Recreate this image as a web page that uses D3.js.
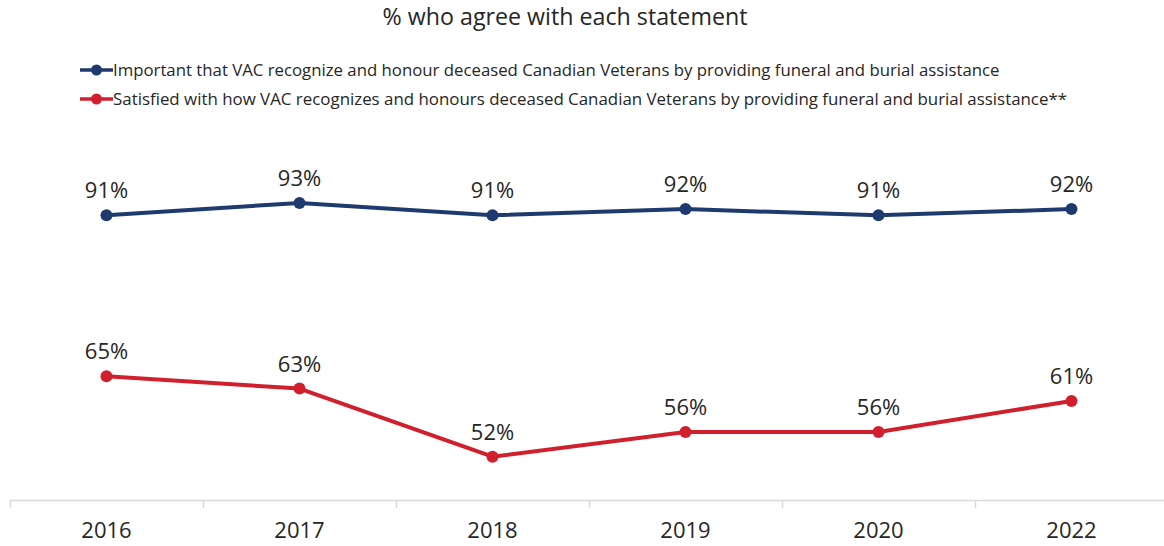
<!DOCTYPE html>
<html><head><meta charset="utf-8">
<script src="https://cdn.jsdelivr.net/npm/d3@7"></script>
<style>body{margin:0;background:#fff}svg{display:block}</style>
</head><body>
<script>
const categories = ["2016","2017","2018","2019","2020","2022"];
const importantValues = [91,93,91,92,91,92];
const satisfiedValues = [65,63,52,56,56,61];
const seriesNames = [
  "Important that VAC recognize and honour deceased Canadian Veterans by providing funeral and burial assistance",
  "Satisfied with how VAC recognizes and honours deceased Canadian Veterans by providing funeral and burial assistance**"
];
const seriesColors = ["#1f3a6e","#d0202e"];
const titleText = "% who agree with each statement";

const W = 1164, H = 546;
const font = "'Open Sans', 'Liberation Sans', sans-serif";
const textColor = "#262626";
const svg = d3.select("body").append("svg").attr("width", W).attr("height", H);

function fitText(sel, target){
  const n = sel.node();
  let fs = parseFloat(sel.attr("font-size"));
  const w = n.getComputedTextLength();
  sel.attr("font-size", (fs*target/w).toFixed(2));
}

const x = d3.scaleBand().domain(categories).range([10, 1168]).paddingInner(0).paddingOuter(0);
const y = d3.scaleLinear().domain([45, 100]).range([500, 159.6]);

// title
const t = svg.append("text").attr("x", 565).attr("y", 25).attr("text-anchor","middle")
  .attr("font-family", font).attr("font-size", 20).attr("fill", textColor).text(titleText);
fitText(t, 365);

// legend
const legY = [70, 99];
seriesNames.forEach((name,i)=>{
  const g = svg.append("g");
  g.append("line").attr("x1",80).attr("x2",113).attr("y1",legY[i]).attr("y2",legY[i])
    .attr("stroke",seriesColors[i]).attr("stroke-width",3.5);
  g.append("circle").attr("cx",96.5).attr("cy",legY[i]).attr("r",5.5).attr("fill",seriesColors[i]);
  const tt = g.append("text").attr("x",113).attr("y",legY[i]+5.5).attr("font-family",font)
    .attr("font-size",16).attr("fill",textColor).text(name);
  fitText(tt, i===0 ? 887 : 955);
});

// axis
const ag = svg.append("g").attr("transform","translate(0,500)");
ag.append("line").attr("x1",10).attr("x2",1168).attr("y1",0.5).attr("y2",0.5).attr("stroke","#d9d9d9").attr("stroke-width",1.5);
const bounds = categories.map(c=>x(c)).concat([x.range()[1]]);
ag.selectAll("line.tk").data(bounds).join("line").attr("class","tk")
  .attr("x1",d=>d+0.5).attr("x2",d=>d+0.5).attr("y1",0).attr("y2",8).attr("stroke","#d9d9d9").attr("stroke-width",1.5);
ag.selectAll("text.lab").data(categories).join("text").attr("class","lab")
  .attr("x",d=>x(d)+x.bandwidth()/2).attr("y",38).attr("text-anchor","middle")
  .attr("font-family",font).attr("font-size",22).attr("fill",textColor).text(d=>d);

// lines
const cx = c => x(c)+x.bandwidth()/2;
const line = d3.line().x(d=>cx(d.c)).y(d=>y(d.v));
[importantValues, satisfiedValues].forEach((vals,i)=>{
  const data = vals.map((v,j)=>({c:categories[j], v}));
  svg.append("path").datum(data).attr("d",line).attr("fill","none")
    .attr("stroke",seriesColors[i]).attr("stroke-width",4).attr("stroke-linejoin","round");
  svg.selectAll(null).data(data).join("circle").attr("cx",d=>cx(d.c)).attr("cy",d=>y(d.v))
    .attr("r",6).attr("fill",seriesColors[i]);
  svg.selectAll(null).data(data).join("text").attr("x",d=>cx(d.c)).attr("y",d=>y(d.v)-17)
    .attr("text-anchor","middle").attr("font-family",font).attr("font-size",22).attr("fill",textColor)
    .text(d=>d.v+"%");
});
</script>
</body></html>
